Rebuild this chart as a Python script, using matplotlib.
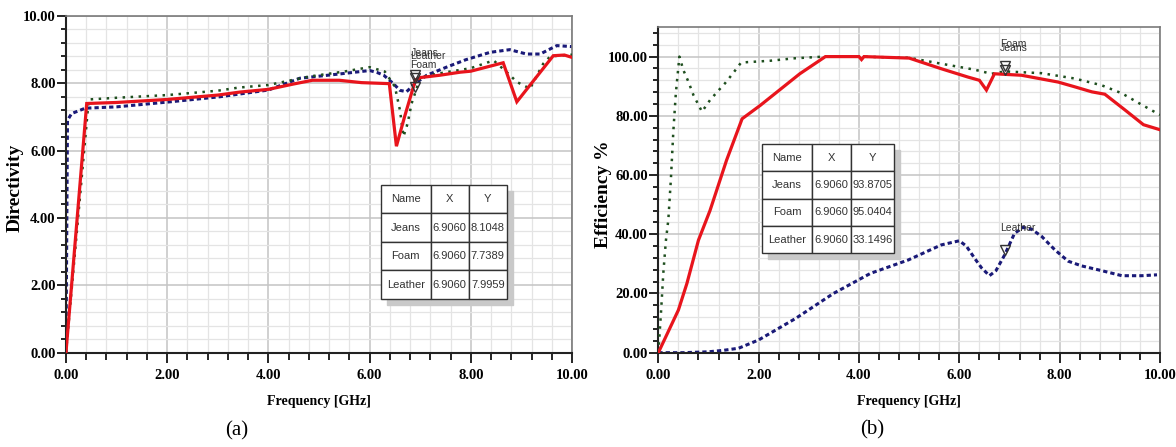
import matplotlib
matplotlib.use("Agg")
import matplotlib.pyplot as plt
import matplotlib.transforms as mtransforms
from matplotlib.patches import Rectangle
from matplotlib.ticker import MultipleLocator, FormatStrFormatter

plt.rcParams['font.family'] = ['Liberation Serif', 'DejaVu Serif']

# ---- (a) directivity ----
jeans_dir_f = [0, 0.41, 1.0, 2.0, 3.0, 3.44, 4.0, 4.5, 4.87, 5.4, 5.84, 6.39, 6.53, 6.69,
               6.906, 7.0, 7.39, 7.79, 8.0, 8.64, 8.91, 9.63, 9.85, 10.0]
jeans_dir = [0, 7.40, 7.43, 7.52, 7.65, 7.74, 7.82, 7.98, 8.09, 8.09, 8.02, 7.99, 6.13, 7.0,
             8.10, 8.17, 8.24, 8.33, 8.36, 8.61, 7.45, 8.82, 8.84, 8.77]

foam_dir_f = [0, 0.45, 1.0, 2.0, 3.0, 3.4, 4.0, 4.8, 5.5, 6.0, 6.3, 6.5, 6.6, 6.67, 6.75,
              6.83, 6.906, 7.0, 7.4, 8.0, 8.45, 8.74, 8.91, 9.17, 9.43, 9.57, 10.0]
foam_dir = [0, 7.52, 7.57, 7.65, 7.78, 7.87, 7.95, 8.2, 8.35, 8.48, 8.35, 7.9, 7.2, 6.42, 6.8,
            7.40, 7.74, 8.18, 8.30, 8.45, 8.68, 8.29, 8.04, 7.84, 8.58, 8.80, 8.85]

leather_dir_f = [0, 0.03, 0.11, 0.38, 1.0, 2.06, 3.04, 4.0, 4.62, 5.42, 6.0, 6.15, 6.28, 6.47,
                 6.6, 6.73, 6.906, 7.13, 7.52, 7.9, 8.38, 8.77, 9.10, 9.37, 9.70, 10.0]
leather_dir = [0, 6.9, 7.10, 7.26, 7.30, 7.45, 7.6, 7.8, 8.15, 8.28, 8.38, 8.32, 8.24, 7.99,
               7.79, 7.75, 8.0, 8.24, 8.48, 8.7, 8.92, 9.0, 8.87, 8.87, 9.12, 9.09]

# ---- (b) efficiency ----
jeans_eff_f = [0, 0.4, 0.57, 0.8, 1.03, 1.36, 1.67, 2.03, 2.82, 3.33, 4.0, 4.05, 4.1, 5.0, 5.64,
               6.17, 6.40, 6.54, 6.7, 7.24, 7.97, 8.3, 8.64, 8.9, 9.3, 9.67, 10.0]
jeans_eff = [0, 14.4, 23.4, 38, 48, 65, 79, 83.5, 94.2, 100, 100, 99, 100, 99.5, 95.9,
             93.1, 92, 88.7, 94.2, 93.7, 91.4, 89.8, 88.1, 87.3, 82, 77, 75.3]

foam_eff_f = [0, 0.05, 0.1, 0.15, 0.2, 0.25, 0.3, 0.35, 0.42, 0.5, 0.6, 0.7, 0.87, 1.03, 1.18,
              1.33, 1.49, 1.65, 2.23, 2.69, 3.3, 4.0, 5.0, 5.64, 6.3, 6.64, 6.906, 7.64, 8.3,
              8.84, 9.24, 9.64, 10.0]
foam_eff = [0, 12.7, 27, 37.7, 45, 58.5, 75, 87.8, 100, 95.4, 91.5, 87, 81.4, 85.3, 88.2,
            91, 94.4, 98, 98.6, 99.4, 100, 100, 99.6, 97.6, 95.6, 94.2, 95.0, 94.4, 92.6,
            90.3, 87.6, 83.7, 80.3]

leather_eff_f = [0, 0.5, 1.0, 1.3, 1.6, 2.0, 2.74, 3.49, 4.23, 4.98, 5.64, 6.0, 6.14, 6.3,
                 6.44, 6.6, 6.73, 6.906, 7.10, 7.27, 7.44, 7.64, 7.9, 8.17, 8.44, 8.84, 9.24,
                 9.64, 9.94]
leather_eff = [0, 0, 0.3, 0.8, 1.5, 4.3, 11.6, 20, 26.8, 31.3, 36.4, 37.8, 36, 32,
               28.7, 26, 27.7, 33.1, 40.3, 42.3, 41.7, 39.3, 34.8, 30.9, 29.3, 27.7, 26,
               26, 26.3]

# marker table
names = ['Jeans', 'Foam', 'Leather']
marker_x = [6.9060, 6.9060, 6.9060]
dir_marker_y = [8.1048, 7.7389, 7.9959]
eff_marker_y = [93.8705, 95.0404, 33.1496]

red = '#e8141c'
green = '#1f4f1f'
blue = '#1a1a78'
narrow = ['Liberation Sans', 'DejaVu Sans']

fig = plt.figure(figsize=(11.76, 4.47), dpi=100)
ax1 = fig.add_axes([0.0561, 0.2114, 0.4303, 0.7528])
ax2 = fig.add_axes([0.5598, 0.2110, 0.4266, 0.7286])


def style_axes(ax, ymax, ymajor, yminor):
    ax.set_xlim(0, 10)
    ax.set_ylim(0, ymax)
    ax.xaxis.set_major_locator(MultipleLocator(2))
    ax.xaxis.set_minor_locator(MultipleLocator(0.4))
    ax.yaxis.set_major_locator(MultipleLocator(ymajor))
    ax.yaxis.set_minor_locator(MultipleLocator(yminor))
    ax.xaxis.set_major_formatter(FormatStrFormatter('%.2f'))
    ax.yaxis.set_major_formatter(FormatStrFormatter('%.2f'))
    ax.grid(True, which='minor', color='#e4e4e4', lw=0.9)
    ax.grid(True, which='major', color='#c4c4c4', lw=1.1)
    ax.set_axisbelow(True)
    ax.tick_params(axis='x', which='major', direction='out', length=7, width=1.2, pad=5,
                   labelsize=10.5)
    ax.tick_params(axis='x', which='minor', direction='out', length=5, width=1.2)
    ax.tick_params(axis='y', which='major', direction='out', length=6.5, width=1.2, pad=1,
                   labelsize=10.5)
    ax.tick_params(axis='y', which='minor', direction='out', length=3.5, width=1.2)
    for lab in ax.get_xticklabels() + ax.get_yticklabels():
        lab.set_fontweight('bold')
    for s in ['left', 'bottom']:
        ax.spines[s].set_color('#222222')
        ax.spines[s].set_linewidth(1.5)
    for s in ['top', 'right']:
        ax.spines[s].set_color('#7a7a7a')
        ax.spines[s].set_linewidth(1.2)


def draw_curves(ax, lf, lv, ff, fv, jf, jv):
    ax.plot(lf, lv, color=blue, lw=2.2, linestyle=(0, (1.4, 1.0)), zorder=2)
    ax.plot(ff, fv, color=green, lw=1.8, linestyle=(0, (1, 2.2)), zorder=3)
    ax.plot(jf, jv, color=red, lw=2.3, solid_joinstyle='miter', zorder=4)


def draw_markers(ax, ys):
    up = mtransforms.offset_copy(ax.transData, fig=fig, x=0, y=5, units='dots')
    for n, x, y in zip(names, marker_x, ys):
        ax.plot([x], [y], marker='v', ms=7, mfc='none', mec='#333333', mew=1.0,
                transform=up, zorder=7, clip_on=False)
        ax.annotate(n, (x, y), xytext=(-5, 27), textcoords='offset pixels',
                    ha='left', va='center', fontsize=7.5, color='#333333',
                    family=narrow, zorder=8)


def draw_table(ax, ys, fmt, bbox, widths):
    rows = [[n, '%.4f' % x, fmt % y] for n, x, y in zip(names, marker_x, ys)]
    shadow = Rectangle((bbox[0] + 0.012, bbox[1] - 0.018), bbox[2], bbox[3],
                       transform=ax.transAxes, color='#c9c9c9', zorder=5)
    ax.add_patch(shadow)
    tb = ax.table(cellText=rows, colLabels=['Name', 'X', 'Y'], cellLoc='center',
                  colWidths=widths, bbox=bbox, zorder=6)
    tb.auto_set_font_size(False)
    tb.set_fontsize(8)
    for cell in tb.get_celld().values():
        cell.set_edgecolor('#333333')
        cell.set_linewidth(1.0)
        cell.set_facecolor('white')
        cell.PAD = 0.02
        cell.get_text().set_fontfamily(narrow)
        cell.get_text().set_color('#333333')


style_axes(ax1, 10, 2, 0.4)
draw_curves(ax1, leather_dir_f, leather_dir, foam_dir_f, foam_dir, jeans_dir_f, jeans_dir)
draw_markers(ax1, dir_marker_y)
draw_table(ax1, dir_marker_y, '%.4f', [0.6225, 0.159, 0.249, 0.339], [0.395, 0.30, 0.305])

style_axes(ax2, 110, 20, 4)
draw_curves(ax2, leather_eff_f, leather_eff, foam_eff_f, foam_eff, jeans_eff_f, jeans_eff)
draw_markers(ax2, eff_marker_y)
draw_table(ax2, eff_marker_y, '%.4f', [0.2067, 0.3046, 0.2631, 0.3362], [0.381, 0.29, 0.329])

# axis titles and captions
fig.text(0.0128, 0.5805, 'Directivity', rotation=90, ha='center', va='center',
         fontsize=14, fontweight='bold')
fig.text(0.5128, 0.566, 'Efficiency %', rotation=90, ha='center', va='center',
         fontsize=14, fontweight='bold')
fig.text(0.271, 0.1007, 'Frequency [GHz]', ha='center', va='center', fontsize=10,
         fontweight='bold')
fig.text(0.7727, 0.1007, 'Frequency [GHz]', ha='center', va='center', fontsize=10,
         fontweight='bold')
fig.text(0.2013, 0.0358, '(a)', ha='center', va='center', fontsize=15)
fig.text(0.7415, 0.038, '(b)', ha='center', va='center', fontsize=15)

fig.savefig('out.png', dpi=100, facecolor='white')
